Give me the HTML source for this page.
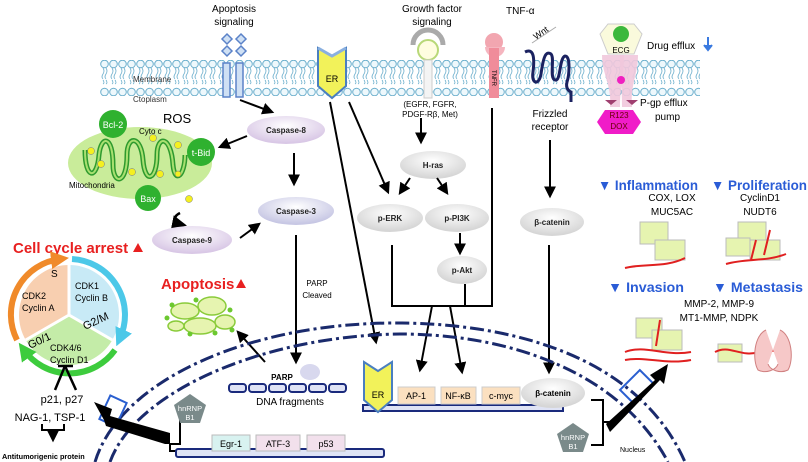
<!DOCTYPE html>
<html><head><meta charset="utf-8"><style>
body{margin:0;background:#fff;}
svg{display:block;font-family:"Liberation Sans",sans-serif;}
</style></head><body>
<svg width="808" height="462" viewBox="0 0 808 462" xmlns="http://www.w3.org/2000/svg">
<defs>
<pattern id="mem" x="100" y="60" width="9" height="36" patternUnits="userSpaceOnUse">
<circle cx="4.5" cy="4" r="3.8" fill="#eef8fc" stroke="#6aaecc" stroke-width="1"/>
<circle cx="4.5" cy="32" r="3.8" fill="#eef8fc" stroke="#6aaecc" stroke-width="1"/>
<path d="M3 8 q2 3 0 6 q-2 3 0 5 M6 8 q2 3 0 6 q-2 3 0 5 M3 20 q2 3 0 4 M6 20 q2 3 0 4" stroke="#6aaecc" fill="none" stroke-width="0.8"/>
</pattern>
<marker id="ar" viewBox="0 0 10 10" refX="8" refY="5" markerWidth="6" markerHeight="6" orient="auto"><path d="M0 0L10 5L0 10z" fill="#000"/></marker>
<marker id="ao" viewBox="0 0 10 10" refX="5" refY="5" markerWidth="3" markerHeight="3" orient="auto"><path d="M0 0L10 5L0 10z" fill="#f08a2a"/></marker>
<marker id="ac" viewBox="0 0 10 10" refX="5" refY="5" markerWidth="3" markerHeight="3" orient="auto"><path d="M0 0L10 5L0 10z" fill="#4cc8e8"/></marker>
<marker id="ag" viewBox="0 0 10 10" refX="5" refY="5" markerWidth="3" markerHeight="3" orient="auto"><path d="M0 0L10 5L0 10z" fill="#3dcc3d"/></marker>
<radialGradient id="eg" cx="50%" cy="35%" r="60%"><stop offset="0" stop-color="#fff"/><stop offset="1" stop-color="#d6d6d6"/></radialGradient>
<radialGradient id="ep" cx="50%" cy="35%" r="60%"><stop offset="0" stop-color="#fff"/><stop offset="1" stop-color="#d9c8e6"/></radialGradient>
<radialGradient id="eb" cx="50%" cy="35%" r="60%"><stop offset="0" stop-color="#fff"/><stop offset="1" stop-color="#c7c7e4"/></radialGradient>
</defs>

<rect x="100" y="60" width="600" height="36" fill="url(#mem)"/>
<text x="133" y="82" font-size="8" fill="#333">Membrane</text>
<text x="133" y="102" font-size="8" fill="#333">Ctoplasm</text>

<text x="234" y="12" font-size="10" text-anchor="middle">Apoptosis</text>
<text x="234" y="25" font-size="10" text-anchor="middle">signaling</text>
<g fill="#cfe0f4" stroke="#5b82c8" stroke-width="1.5">
<path d="M227 34l5 5-5 5-5-5z"/><path d="M241 34l5 5-5 5-5-5z"/><path d="M227 46l5 5-5 5-5-5z"/><path d="M241 46l5 5-5 5-5-5z"/>
<rect x="223" y="63" width="7" height="34"/><rect x="236" y="63" width="7" height="34"/>
</g>

<path d="M318 48L332 56L346 48V86L332 98L318 86Z" fill="#f2f25a" stroke="#4a7fc0" stroke-width="2"/>
<path d="M318 48L332 56L346 48" fill="none" stroke="#8ab0e0" stroke-width="3"/>
<text x="332" y="82" font-size="9" text-anchor="middle">ER</text>

<text x="432" y="12" font-size="10" text-anchor="middle">Growth factor</text>
<text x="432" y="25" font-size="10" text-anchor="middle">signaling</text>
<path d="M413 45a12 12 0 0 1 30 0" fill="none" stroke="#aaa" stroke-width="5"/>
<circle cx="428" cy="50" r="10" fill="#fffde0" stroke="#b8d878" stroke-width="2"/>
<rect x="424" y="60" width="8" height="38" fill="#f4f4f4" stroke="#ccc"/>
<text x="430" y="107" font-size="8" text-anchor="middle">(EGFR, FGFR,</text>
<text x="430" y="117" font-size="8" text-anchor="middle">PDGF-Rβ, Met)</text>

<circle cx="494" cy="42" r="9" fill="#f2a6b0"/>
<path d="M485 47a10 10 0 0 0 20 0z" fill="#f5b5bf"/>
<rect x="489" y="48" width="10" height="50" fill="#f08c9a"/>
<text x="494" y="80" font-size="6" text-anchor="middle" transform="rotate(90 494 78)">TNFR</text>
<text x="506" y="14" font-size="10">TNF-α</text>

<text x="536" y="40" font-size="9" transform="rotate(-35 536 40)">Wnt</text>
<line x1="532" y1="43" x2="556" y2="27" stroke="#aaa"/>
<path d="M525 52c8-4 10 4 8 20c-2 12 6 14 8 2c2-14 4-24 10-20c4 4-2 24 4 26c6 2 4-22 10-24c6 0 4 20 2 26c-2 8 4 10 4 10v10" fill="none" stroke="#1b2260" stroke-width="3"/>
<text x="550" y="117" font-size="10" text-anchor="middle">Frizzled</text>
<text x="550" y="130" font-size="10" text-anchor="middle">receptor</text>

<path d="M602 55c0 20 10 30 8 52h10c0-20 4-30 4-52z" fill="#f1c8dc" opacity="0.9"/>
<path d="M638 55c0 20-8 30-6 52h-10c0-20-2-30-2-52z" fill="#f1c8dc" opacity="0.9"/>
<circle cx="621" cy="80" r="4" fill="#f020c0"/>
<path d="M600 34l8-10h26l8 10-8 20h-26z" fill="#fafadc" stroke="#ccc"/>
<circle cx="621" cy="34" r="8" fill="#3cb83c"/>
<text x="621" y="53" font-size="8" text-anchor="middle">ECG</text>
<text x="647" y="49" font-size="10">Drug efflux</text>
<path d="M708 37v12M704 45l4 5 4-5" stroke="#3a7ae0" stroke-width="2" fill="#3a7ae0"/>
<path d="M605 100l6 5 6-5zM626 100l6 5 6-5z" fill="#a04070"/>
<path d="M597 122l8-12h28l8 12-8 12h-28z" fill="#f01cc8"/>
<text x="619" y="118" font-size="8" text-anchor="middle" fill="#600">R123</text>
<text x="619" y="129" font-size="8" text-anchor="middle" fill="#600">DOX</text>
<text x="640" y="106" font-size="10">P-gp efflux</text>
<text x="655" y="120" font-size="10">pump</text>

<ellipse cx="140" cy="163" rx="72" ry="36" fill="#c9ec9a"/>
<path d="M85 150c0 30 12 30 14 5c2-20 14-20 14 10c0 20 14 20 14-10c0-20 14-20 16 5c2 25 14 20 14-5c0-20 14-20 16 10c2 20 12 10 12-10" fill="none" stroke="#2e9a2e" stroke-width="5"/>
<path d="M85 150c0 30 12 30 14 5c2-20 14-20 14 10c0 20 14 20 14-10c0-20 14-20 16 5c2 25 14 20 14-5c0-20 14-20 16 10c2 20 12 10 12-10" fill="none" stroke="#a8e070" stroke-width="2"/>
<g fill="#f4f020" stroke="#777" stroke-width="0.5"><circle cx="91" cy="151" r="3.5"/><circle cx="101" cy="164" r="3.5"/><circle cx="132" cy="172" r="3.5"/><circle cx="153" cy="138" r="3.5"/><circle cx="160" cy="174" r="3.5"/><circle cx="178" cy="145" r="3.5"/><circle cx="189" cy="199" r="3.5"/><circle cx="178" cy="174" r="3"/></g>
<circle cx="113" cy="124" r="14" fill="#2fb12f"/><text x="113" y="128" font-size="9" fill="#fff" text-anchor="middle">Bcl-2</text>
<circle cx="201" cy="152" r="14" fill="#2fb12f"/><text x="201" y="156" font-size="9" fill="#fff" text-anchor="middle">t-Bid</text>
<circle cx="148" cy="198" r="13" fill="#2fb12f"/><text x="148" y="202" font-size="9" fill="#fff" text-anchor="middle">Bax</text>
<text x="163" y="123" font-size="13">ROS</text>
<text x="139" y="134" font-size="8">Cyto c</text>
<text x="69" y="188" font-size="8">Mitochondria</text>
<path d="M180 213c-8 4-6 10 4 12" fill="none" stroke="#000" stroke-width="2.5" marker-end="url(#ar)"/>

<ellipse cx="286" cy="130" rx="39" ry="14" fill="url(#ep)"/><text x="286" y="133" font-size="8" font-weight="bold" fill="#222" text-anchor="middle">Caspase-8</text>
<ellipse cx="296" cy="211" rx="38" ry="14" fill="url(#eb)"/><text x="296" y="214" font-size="8" font-weight="bold" fill="#222" text-anchor="middle">Caspase-3</text>
<ellipse cx="192" cy="240" rx="40" ry="14" fill="url(#ep)"/><text x="192" y="243" font-size="8" font-weight="bold" fill="#222" text-anchor="middle">Caspase-9</text>
<ellipse cx="433" cy="165" rx="33" ry="14" fill="url(#eg)"/><text x="433" y="168" font-size="8" font-weight="bold" fill="#222" text-anchor="middle">H-ras</text>
<ellipse cx="390" cy="218" rx="33" ry="14" fill="url(#eg)"/><text x="390" y="221" font-size="8" font-weight="bold" fill="#222" text-anchor="middle">p-ERK</text>
<ellipse cx="457" cy="218" rx="32" ry="14" fill="url(#eg)"/><text x="457" y="221" font-size="8" font-weight="bold" fill="#222" text-anchor="middle">p-PI3K</text>
<ellipse cx="462" cy="270" rx="25" ry="14" fill="url(#eg)"/><text x="462" y="273" font-size="8" font-weight="bold" fill="#222" text-anchor="middle">p-Akt</text>
<ellipse cx="552" cy="222" rx="32" ry="14" fill="url(#eg)"/><text x="552" y="225" font-size="8" font-weight="bold" fill="#222" text-anchor="middle">β-catenin</text>

<g stroke="#000" stroke-width="2" fill="none" marker-end="url(#ar)">
<line x1="240" y1="100" x2="272" y2="112"/>
<line x1="247" y1="136" x2="220" y2="147"/>
<line x1="294" y1="153" x2="294" y2="184"/>
<line x1="240" y1="238" x2="259" y2="224"/>
<line x1="330" y1="102" x2="376" y2="342"/>
<line x1="349" y1="102" x2="388" y2="192"/>
<line x1="296" y1="235" x2="296" y2="362"/>
<line x1="265" y1="362" x2="238" y2="332"/>
<line x1="421" y1="118" x2="421" y2="142"/>
<line x1="410" y1="178" x2="400" y2="193"/>
<line x1="437" y1="178" x2="447" y2="193"/>
<line x1="460" y1="233" x2="460" y2="253"/>
<line x1="550" y1="140" x2="550" y2="196"/>
<line x1="549" y1="245" x2="549" y2="372"/>
<line x1="432" y1="306" x2="420" y2="370"/>
<line x1="450" y1="306" x2="462" y2="372"/>
</g>
<path d="M392 245V306H492V108M465 284V306" stroke="#000" stroke-width="2" fill="none"/>
<text x="317" y="286" font-size="8" text-anchor="middle">PARP</text>
<text x="317" y="298" font-size="8" text-anchor="middle">Cleaved</text>

<g stroke="#1a2a6c" stroke-width="3" fill="none" stroke-dasharray="14 4 3 4">
<path d="M95 462C120 380 250 322 400 323C520 324 640 360 685 462"/>
<path d="M110 462C135 392 262 336 400 334C510 334 620 372 668 462"/>
</g>
<text x="620" y="452" font-size="7">Nucleus</text>

<rect x="104" y="398" width="18" height="26" fill="none" stroke="#2a5fd0" stroke-width="2" transform="rotate(25 113 411)"/>
<rect x="627" y="373" width="20" height="28" fill="none" stroke="#2a5fd0" stroke-width="2" transform="rotate(45 637 387)"/>

<path d="M170 433L110 416L112 409L94 402L104 420L106 426L165 444L170 444Z" fill="#000"/>
<path d="M606 424L655 380L650 375L668 364L664 384L660 380L610 432Z" fill="#000"/>
<path d="M170 444H180V410M170 444V451H180" stroke="#000" stroke-width="2" fill="none"/>
<path d="M591 400H603V445H591M603 422H610" stroke="#000" stroke-width="2" fill="none"/>

<path d="M190 394l16 11-6 18h-20l-6-18z" fill="#7a8a8a"/>
<text x="190" y="411" font-size="7.5" fill="#fff" text-anchor="middle">hnRNP</text>
<text x="190" y="420" font-size="7.5" fill="#fff" text-anchor="middle">B1</text>
<path d="M573 423l16 11-6 18h-20l-6-18z" fill="#7a8a8a"/>
<text x="573" y="440" font-size="7.5" fill="#fff" text-anchor="middle">hnRNP</text>
<text x="573" y="449" font-size="7.5" fill="#fff" text-anchor="middle">B1</text>

<rect x="176" y="449" width="208" height="8" fill="#dfe3f5" stroke="#1a2a7c" stroke-width="2" rx="2"/>
<rect x="212" y="435" width="38" height="16" fill="#d8f2f0" stroke="#bbb"/><text x="231" y="447" font-size="9" text-anchor="middle">Egr-1</text>
<rect x="256" y="435" width="44" height="16" fill="#f2e0ec" stroke="#bbb"/><text x="278" y="447" font-size="9" text-anchor="middle">ATF-3</text>
<rect x="307" y="435" width="38" height="16" fill="#f2e0ec" stroke="#bbb"/><text x="326" y="447" font-size="9" text-anchor="middle">p53</text>

<ellipse cx="310" cy="372" rx="10" ry="8" fill="#d8d8ee"/>
<text x="282" y="380" font-size="8" font-weight="bold" text-anchor="middle">PARP</text>
<g fill="#dfe3f5" stroke="#1a2a7c" stroke-width="2">
<rect x="229" y="384" width="17" height="8" rx="3"/><rect x="249" y="384" width="17" height="8" rx="3"/><rect x="269" y="384" width="17" height="8" rx="3"/><rect x="289" y="384" width="17" height="8" rx="3"/><rect x="309" y="384" width="17" height="8" rx="3"/><rect x="329" y="384" width="17" height="8" rx="3"/>
</g>
<text x="290" y="405" font-size="10" text-anchor="middle">DNA  fragments</text>

<rect x="363" y="405" width="200" height="6" fill="#dfe3f5" stroke="#1a2a7c" stroke-width="2"/>
<path d="M364 362L378 371L392 362V400L378 412L364 400Z" fill="#f2f25a" stroke="#4a7fc0" stroke-width="2"/>
<text x="378" y="398" font-size="9" text-anchor="middle">ER</text>
<rect x="398" y="387" width="37" height="17" fill="#fbe0c0" stroke="#ccc"/><text x="416" y="399" font-size="9" text-anchor="middle">AP-1</text>
<rect x="441" y="387" width="35" height="17" fill="#fbe0c0" stroke="#ccc"/><text x="458" y="399" font-size="9" text-anchor="middle">NF-κB</text>
<rect x="482" y="387" width="38" height="17" fill="#fbe0c0" stroke="#ccc"/><text x="501" y="399" font-size="9" text-anchor="middle">c-myc</text>
<ellipse cx="553" cy="393" rx="32" ry="15" fill="url(#eg)"/><text x="553" y="396" font-size="8" font-weight="bold" text-anchor="middle">β-catenin</text>

<text x="13" y="253" font-size="15" font-weight="bold" fill="#e82020">Cell cycle arrest</text>
<path d="M133 252l5-9 5 9z" fill="#e82020"/>
<path d="M69 315L25.7 340A50 50 0 0 1 69 265Z" fill="#f8cfb0"/>
<path d="M69 315L69 265A50 50 0 0 1 112.3 340Z" fill="#c8eaf6"/>
<path d="M69 315L112.3 340A50 50 0 0 1 25.7 340Z" fill="#c4eca8"/>
<path d="M69 315L69 265M69 315L112.3 340M69 315L25.7 340" stroke="#fff" stroke-width="3"/>
<path d="M17 340A56 56 0 0 1 60 259" fill="none" stroke="#f08a2a" stroke-width="6" marker-end="url(#ao)"/>
<path d="M72 259A56 56 0 0 1 120 338" fill="none" stroke="#4cc8e8" stroke-width="6" marker-end="url(#ac)"/>
<path d="M115 350A56 56 0 0 1 24 350" fill="none" stroke="#3dcc3d" stroke-width="6" marker-end="url(#ag)"/>
<text x="51" y="277" font-size="10">S</text>
<text x="22" y="299" font-size="9">CDK2</text><text x="22" y="311" font-size="9">Cyclin A</text>
<text x="75" y="289" font-size="9">CDK1</text><text x="75" y="301" font-size="9">Cyclin B</text>
<text x="85" y="330" font-size="11" transform="rotate(-25 85 330)">G2/M</text>
<text x="30" y="349" font-size="11" transform="rotate(-25 30 349)">G0/1</text>
<text x="50" y="351" font-size="9">CDK4/6</text><text x="50" y="363" font-size="9">Cyclin D1</text>
<path d="M58 366H73M65 366L55 390M65 366L76 390" stroke="#000" stroke-width="2.5" fill="none"/>
<text x="62" y="403" font-size="11" text-anchor="middle">p21, p27</text>
<text x="50" y="421" font-size="11" text-anchor="middle">NAG-1, TSP-1</text>
<path d="M42 424V430H64V424M53 430V440" stroke="#000" stroke-width="2" fill="none" marker-end="url(#ar)"/>
<text x="2" y="459" font-size="7.3" font-weight="bold">Antitumorigenic protein</text>

<text x="161" y="289" font-size="15" font-weight="bold" fill="#e82020">Apoptosis</text>
<path d="M236 288l5-9 5 9z" fill="#e82020"/>
<g fill="#e6f4b0" stroke="#8acb3a" stroke-width="1.5">
<ellipse cx="185" cy="311" rx="14" ry="8"/><ellipse cx="212" cy="306" rx="14" ry="9"/><ellipse cx="200" cy="326" rx="16" ry="8"/><ellipse cx="225" cy="322" rx="10" ry="7"/><ellipse cx="176" cy="326" rx="8" ry="5"/>
</g>
<g fill="#6cc830"><circle cx="172" cy="305" r="2.5"/><circle cx="196" cy="300" r="2.5"/><circle cx="230" cy="310" r="2.5"/><circle cx="190" cy="334" r="2.5"/><circle cx="215" cy="333" r="2.5"/><circle cx="167" cy="318" r="2.5"/><circle cx="232" cy="330" r="2.5"/></g>

<g font-weight="bold" fill="#2a5cd6" font-size="14">
<text x="598" y="190" textLength="100" lengthAdjust="spacingAndGlyphs">▼ Inflammation</text>
<text x="711" y="190" textLength="96" lengthAdjust="spacingAndGlyphs">▼ Proliferation</text>
<text x="608" y="292" textLength="76" lengthAdjust="spacingAndGlyphs">▼ Invasion</text>
<text x="713" y="292" textLength="90" lengthAdjust="spacingAndGlyphs">▼ Metastasis</text>
</g>
<g font-size="10" text-anchor="middle">
<text x="672" y="201">COX, LOX</text><text x="672" y="215">MUC5AC</text>
<text x="760" y="201">CyclinD1</text><text x="760" y="215">NUDT6</text>
<text x="719" y="307">MMP-2, MMP-9</text><text x="719" y="321">MT1-MMP, NDPK</text>
</g>
<g fill="#e6f4b0" stroke="#bbb">
<rect x="640" y="222" width="28" height="22"/><rect x="655" y="240" width="30" height="20"/>
<rect x="738" y="222" width="28" height="22"/><rect x="750" y="240" width="30" height="20"/><rect x="726" y="238" width="24" height="18"/>
<rect x="636" y="318" width="26" height="20"/><rect x="652" y="330" width="30" height="20"/>
<rect x="718" y="344" width="24" height="18"/>
</g>
<g fill="none" stroke="#e02020" stroke-width="2">
<path d="M625 268c20-5 40 0 60-10"/><path d="M726 264c20-6 40-2 60-10M756 240l-5 20M770 230l-6 25"/>
<path d="M625 352c20-8 40 5 66 0M625 360c20-4 40 5 66 0M660 320l-4 26"/>
<path d="M715 352c15-8 25 6 45 0c10-2 20 0 30-5"/>
</g>
<path d="M766 330c-12 5-14 30-8 40 8 4 18 0 20-6M780 330c12 5 14 30 8 40-8 4-18 0-20-6" fill="#f6c8c8" stroke="#d08080"/>
</svg>
</body></html>
